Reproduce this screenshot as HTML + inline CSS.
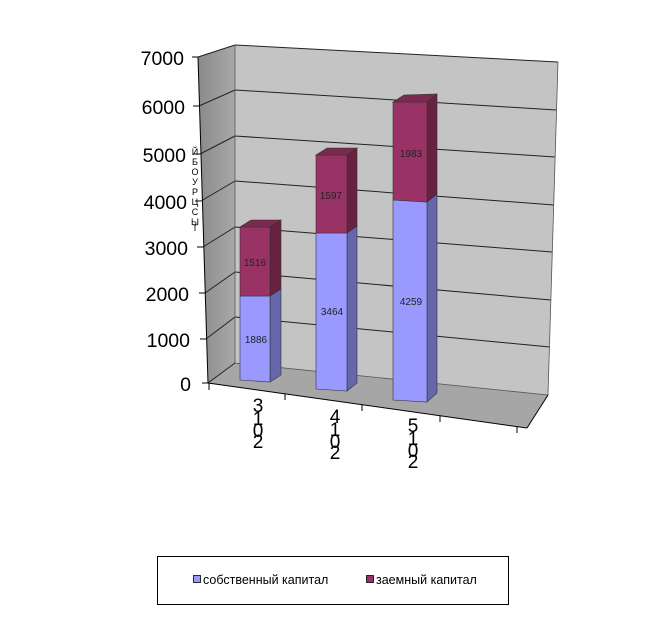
<!DOCTYPE html>
<html><head><meta charset="utf-8"><style>
html,body{margin:0;padding:0;background:#fff;width:668px;height:620px;overflow:hidden}
svg{display:block}
text{font-family:"Liberation Sans",sans-serif}
</style></head><body>
<svg width="668" height="620" viewBox="0 0 668 620">
<defs>
<linearGradient id="sw" x1="0" x2="1" y1="0" y2="0"><stop offset="0" stop-color="#8a8a8a"/><stop offset="1" stop-color="#a8a8a8"/></linearGradient>
</defs>
<polygon points="198,57 235,45 235,363 208,383" fill="url(#sw)"/>
<polygon points="235,45 558,62 548,395 235,363" fill="#c4c4c4"/>
<polygon points="235,363 548,395 527,428 208,383" fill="#a6a6a6"/>
<g stroke="#222" stroke-width="1" fill="none">
<line x1="235" y1="45" x2="558" y2="62"/>
<line x1="235" y1="90" x2="556" y2="110"/>
<line x1="235" y1="136" x2="555" y2="157"/>
<line x1="235" y1="181" x2="554" y2="205"/>
<line x1="235" y1="227" x2="552" y2="252"/>
<line x1="235" y1="272" x2="551" y2="300"/>
<line x1="235" y1="317" x2="550" y2="347"/>
<line x1="198" y1="57" x2="235" y2="45"/>
<line x1="199" y1="106" x2="235" y2="90"/>
<line x1="200" y1="154" x2="235" y2="136"/>
<line x1="201" y1="201" x2="235" y2="181"/>
<line x1="203" y1="247" x2="235" y2="227"/>
<line x1="205" y1="293" x2="235" y2="272"/>
<line x1="206" y1="339" x2="235" y2="317"/>
<line x1="208" y1="383" x2="235" y2="363"/>
</g>
<g stroke="#555" stroke-width="0.8" fill="none">
<line x1="235" y1="45" x2="235" y2="363"/>
<line x1="235" y1="363" x2="548" y2="395"/>
<line x1="548" y1="395" x2="558" y2="62"/>
</g>
<g stroke="#000" stroke-width="1">
<line x1="198" y1="57" x2="208" y2="383"/>
<line x1="208" y1="383" x2="527" y2="428"/>
<line x1="527" y1="428" x2="548" y2="395"/>
<line x1="192" y1="57" x2="198" y2="57"/><line x1="193" y1="106" x2="199" y2="106"/>
<line x1="194" y1="154" x2="200" y2="154"/><line x1="195" y1="201" x2="201" y2="201"/>
<line x1="197" y1="247" x2="203" y2="247"/><line x1="199" y1="293" x2="205" y2="293"/>
<line x1="200" y1="339" x2="206" y2="339"/><line x1="202" y1="383" x2="208" y2="383"/>
<line x1="209" y1="383" x2="209" y2="390"/><line x1="285" y1="394" x2="285" y2="400"/>
<line x1="362" y1="405" x2="362" y2="411"/><line x1="440" y1="416" x2="440" y2="422"/>
<line x1="517" y1="427" x2="517" y2="433"/>
</g>
<g font-size="19.5" fill="#000" text-anchor="end">
<text x="184" y="65">7000</text><text x="185" y="114">6000</text>
<text x="186" y="162">5000</text><text x="187" y="209">4000</text>
<text x="188" y="255">3000</text><text x="189" y="301">2000</text>
<text x="190" y="347">1000</text><text x="191" y="391">0</text>
</g>
<g font-size="9" fill="#000" text-anchor="middle">
<text x="195" y="155">Й</text><text x="195" y="165">Б</text><text x="195" y="175">О</text><text x="195" y="185">У</text><text x="195" y="195">Р</text><text x="195" y="205">Ц</text><text x="195" y="215">С</text><text x="195" y="225">Ы</text><text x="195" y="231">Т</text>
</g>
<g stroke="#333" stroke-width="0.6">
<polygon points="270,296 281,289 281,375 270,382" fill="#6666aa"/>
<polygon points="240,296 270,296 270,382 240,380" fill="#9999ff"/>
<polygon points="270,227 281,220 281,289 270,296" fill="#66223f"/>
<polygon points="240,227 270,227 270,296 240,296" fill="#993366"/>
<polygon points="240,227 251,220 281,220 270,227" fill="#7a2a4f"/>
<polygon points="347,233 357,226 357,383 347,391" fill="#6666aa"/>
<polygon points="316,233 347,233 347,391 316,389" fill="#9999ff"/>
<polygon points="347,155 357,148 357,226 347,233" fill="#66223f"/>
<polygon points="316,155 347,155 347,233 316,233" fill="#993366"/>
<polygon points="316,155 327,148 357,148 347,155" fill="#7a2a4f"/>
<polygon points="427,202 437,194 437,393 427,402" fill="#6666aa"/>
<polygon points="393,200 427,202 427,402 393,400" fill="#9999ff"/>
<polygon points="427,102 437,94 437,194 427,202" fill="#66223f"/>
<polygon points="393,102 427,102 427,202 393,200" fill="#993366"/>
<polygon points="393,102 404,95 437,94 427,102" fill="#7a2a4f"/>
</g>
<g font-size="10" fill="#222" text-anchor="middle">
<text x="255" y="266">1516</text><text x="256" y="343">1886</text>
<text x="331" y="199">1597</text><text x="332" y="315">3464</text>
<text x="411" y="157">1983</text><text x="411" y="305">4259</text>
</g>
<g font-size="19" fill="#000" text-anchor="middle">
<text x="258" y="412">3</text><text x="258" y="425">1</text><text x="258" y="437">0</text><text x="258" y="448">2</text>
<text x="335" y="423">4</text><text x="335" y="436">1</text><text x="335" y="448">0</text><text x="335" y="459">2</text>
<text x="413" y="432">5</text><text x="413" y="445">1</text><text x="413" y="457">0</text><text x="413" y="468">2</text>
</g>
<rect x="157.5" y="556.5" width="351" height="48" fill="#fff" stroke="#000" stroke-width="1"/>
<rect x="193.5" y="575.5" width="7" height="7" fill="#9999ff" stroke="#000" stroke-width="0.8"/>
<text x="203" y="584" font-size="12.5">собственный капитал</text>
<rect x="366.5" y="575.5" width="7" height="7" fill="#993366" stroke="#000" stroke-width="0.8"/>
<text x="376" y="584" font-size="12.5">заемный капитал</text>
</svg>
</body></html>
